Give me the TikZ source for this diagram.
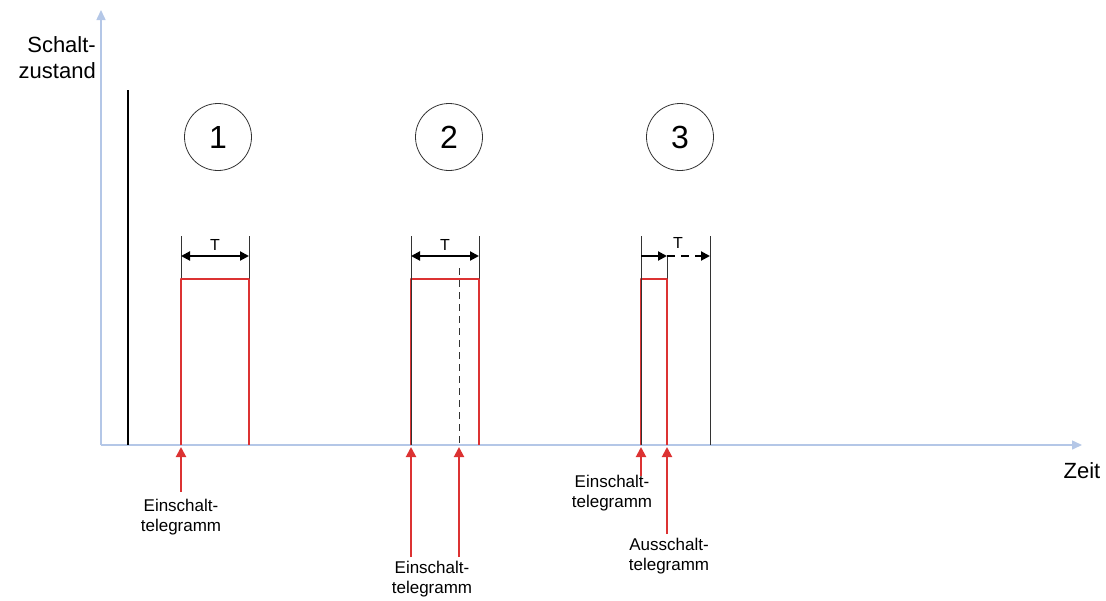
\documentclass[tikz,border=0pt]{standalone}
\usepackage{fontspec}
\setmainfont{Liberation Sans}
\usetikzlibrary{arrows.meta}
\definecolor{axisblue}{RGB}{180,199,231}
\definecolor{pulsered}{RGB}{220,50,50}
\begin{document}
\begin{tikzpicture}[x=1pt,y=-1pt,line join=round,
	axis/.style={draw=axisblue,line width=1.5pt,-{Triangle[length=10pt,width=9pt]}},
	pulse/.style={draw=pulsered,line width=1.4pt},
	mark line/.style={draw=black!80,line width=0.8pt},
	tmeas/.style={draw=black,line width=2pt,{Triangle[length=9pt,width=9pt]}-{Triangle[length=9pt,width=9pt]}},
	telarrow/.style={draw=pulsered,line width=2pt,-{Triangle[length=10pt,width=10pt]}},
	tellabel/.style={font=\fontsize{17}{20}\selectfont,align=center},
	tlabel/.style={font=\fontsize{16}{16}\selectfont},
	numcircle/.style={draw=black!80,line width=0.8pt,circle,minimum size=67pt,inner sep=0pt,font=\fontsize{32}{32}\selectfont}]
	\useasboundingbox (0,0) rectangle (1106,600);
	\def\yb{445} \def\ytop{279} \def\ym{236} \def\yt{256}
	% Achsen
	\draw[axis] (101,\yb)--(1082,\yb);
	\draw[axis] (101,\yb)--(101,10);
	\node[font=\fontsize{22}{26}\selectfont,align=right,anchor=north east,inner sep=0pt] (zustand) at (96,36) {Schalt-\\zustand};
	\node[font=\fontsize{22}{22}\selectfont,anchor=base] (zeit) at (1082,478) {Zeit};
	\draw[line width=1.2pt] (128,90)--(128,\yb);
	% Nummern
	\node[numcircle] (n1) at (218,137) {1};
	\node[numcircle] (n2) at (449,137) {2};
	\node[numcircle] (n3) at (680,137) {3};
	% Fall 1
	\foreach \x in {181,249} \draw[mark line] (\x,\ym)--(\x,\yb);
	\draw[pulse] (181,\yb)--(181,\ytop)--(249,\ytop)--(249,\yb);
	\draw[tmeas] (181,\yt)--(249,\yt) node[midway,above=1pt,tlabel] (t1) {T};
	\coordinate (e1) at (181,492);
	\draw[telarrow] (e1)--(181,447);
	\node[tellabel,anchor=north] (tel1) at (181,496) {Einschalt-\\telegramm};
	% Fall 2
	\foreach \x in {479} \draw[mark line] (\x,\ym)--(\x,\yb);
	\draw[pulse] (411,\yb)--(411,\ytop)--(479,\ytop)--(479,\yb);
	\draw[mark line,line width=1pt] (411,\ym)--(411,\yb);
	\draw[mark line,dashed,dash pattern=on 7pt off 5pt] (459,268)--(459,\yb);
	\draw[tmeas] (411,\yt)--(479,\yt) node[midway,above=1pt,tlabel] (t2) {T};
	\coordinate (e2a) at (411,557);
	\coordinate (e2b) at (459,557);
	\draw[telarrow] (e2a)--(411,447);
	\draw[telarrow] (e2b)--(459,447);
	\node[tellabel,anchor=north] (tel2) at (432,558) {Einschalt-\\telegramm};
	% Fall 3
	\foreach \x in {710} \draw[mark line] (\x,\ym)--(\x,\yb);
	\draw[mark line] (667,\yt)--(667,\ytop);
	\draw[pulse] (641,\yb)--(641,\ytop)--(667,\ytop)--(667,\yb);
	\draw[mark line,line width=1pt] (641,\ym)--(641,\yb);
	\draw[draw=black,line width=2pt,{Triangle[length=9pt,width=9pt]}-] (667,\yt)--(641,\yt);
	\draw[draw=black,line width=2pt,dashed,dash pattern=on 8pt off 6pt,-{Triangle[length=9pt,width=9pt]}] (667,\yt)--(710,\yt);
	\node[tlabel] (t3) at (678,243) {T};
	\coordinate (e3) at (641,476);
	\coordinate (a3) at (667,534);
	\draw[telarrow] (e3)--(641,447);
	\draw[telarrow] (a3)--(667,447);
	\node[tellabel,anchor=north] (tel3) at (612,472) {Einschalt-\\telegramm};
	\node[tellabel,anchor=north] (aus3) at (669,535) {Ausschalt-\\telegramm};
\end{tikzpicture}
\end{document}
